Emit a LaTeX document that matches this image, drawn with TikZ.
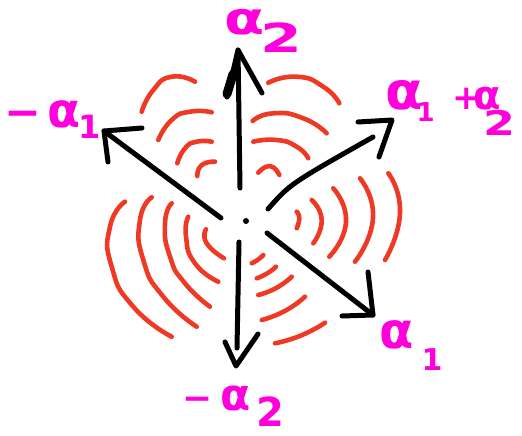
\documentclass[tikz,border=0pt]{standalone}
\usepackage{fontspec}
\setsansfont{DejaVu Sans}
\usepackage{graphicx}
\definecolor{arcred}{RGB}{238,58,36}
\definecolor{mag}{RGB}{255,0,220}
\newcommand\ga[2]{\scalebox{#2}[1]{\fontsize{#1}{#1}\selectfont\sffamily\bfseries α}}
\newcommand\dg[2]{{\fontsize{#1}{#1}\selectfont\sffamily\bfseries #2}}
\begin{document}
\begin{tikzpicture}[x=1pt,y=-1pt,
  redarc/.style={draw=arcred, line width=4.6pt, line cap=round, line join=round},
  shaft/.style={draw=black, line width=5pt, line cap=round, line join=round},
  lab/.style={text=mag, inner sep=0pt, anchor=base west}]
\useasboundingbox (0,0) rectangle (522,436);
% centre
\node[circle, fill=black, inner sep=0pt, minimum size=6pt] (o) at (246,221) {};
\tikzset{every plot/.style={smooth, tension=1}}
% red arcs, upper left
\draw[redarc] plot coordinates {(141.7,111.7) (153.3,90) (171.7,76.7) (195,81.7)};
\draw[redarc] plot coordinates {(158.3,140) (171.7,120) (190,111.7) (211.7,112.3)};
\draw[redarc] plot coordinates {(177.3,163.3) (185,148.3) (196.7,141.7) (211.7,141.7)};
\draw[redarc] plot coordinates {(197.3,176) (201.7,165) (215,161.7)};
% upper right
\draw[redarc] plot coordinates {(268.3,82.7) (296.7,76.7) (323.3,86.7) (339.3,103.3)};
\draw[redarc] plot coordinates {(252.7,121) (273.3,113.3) (303.3,118.3) (326.7,133.3)};
\draw[redarc] plot coordinates {(253.3,141.7) (276.7,140) (296.7,146.7) (308.3,158.3)};
\draw[redarc] plot coordinates {(258.3,172.7) (270,166) (279.3,175)};
% right
\draw[redarc] plot coordinates {(296.7,211.7) (299.3,218.3) (296.7,228.3)};
\draw[redarc] plot coordinates {(311.7,200) (321.7,220) (313.3,243.3)};
\draw[redarc] plot coordinates {(333.3,188.3) (346,222) (329.3,256.7)};
\draw[redarc] plot coordinates {(360,178.3) (373,218) (355,261.7)};
\draw[redarc] plot coordinates {(388.3,173.3) (400,213) (385,260)};
% lower right
\draw[redarc] plot coordinates {(251.7,263.3) (258,259.6) (263.3,255)};
\draw[redarc] plot coordinates {(256.7,278.3) (267.2,273.4) (276,266.7)};
\draw[redarc] plot coordinates {(258.3,295) (276.4,287.9) (291.7,276.7)};
\draw[redarc] plot coordinates {(261.7,320) (285,310.9) (305,296.7)};
\draw[redarc] plot coordinates {(275,343.3) (301,335.5) (325,322.7)};
% left
\draw[redarc] plot coordinates {(125,201.7) (110,226.7) (111.7,266.7) (133.3,306.7) (171.7,336.7)};
\draw[redarc] plot coordinates {(151.7,197.3) (140,220) (143.3,260) (163.3,296.7) (196.7,326.7)};
\draw[redarc] plot coordinates {(171.7,203.3) (165,223.3) (170,256.7) (185,283.3) (210,306.7)};
\draw[redarc] plot coordinates {(188.3,216.7) (186,236.7) (195,263.3) (218.3,281.7)};
\draw[redarc] plot coordinates {(206,229.3) (206.7,243.3) (224,258.3)};
% arrow coordinates
\coordinate (a2s) at (240,188); \coordinate (a2t) at (238,50);
\coordinate (a2l) at (227,97);  \coordinate (a2r) at (262,93);
\coordinate (m1s) at (221,218); \coordinate (m1t) at (104,131);
\coordinate (m1u) at (142,128); \coordinate (m1d) at (108,162);
\coordinate (sus) at (268,209); \coordinate (sue) at (373,137); \coordinate (sut) at (392,120);
\coordinate (suu) at (358,122); \coordinate (sud) at (379,157);
\coordinate (a1s) at (267,233); \coordinate (a1t) at (373,315);
\coordinate (a1u) at (368,272); \coordinate (a1l) at (342,316);
\coordinate (m2s) at (239,242); \coordinate (m2e) at (237,348); \coordinate (m2t) at (236,366);
\coordinate (m2l) at (225,342); \coordinate (m2r) at (258,334);
% arrows
\draw[shaft] (a2s) -- (a2t);
\draw[shaft] (a2l) -- (a2t) -- (a2r);
\draw[shaft, line width=9pt] (227,94) -- (233,74);
\draw[shaft] (m1s) -- (m1t);
\draw[shaft] (m1u) -- (m1t) -- (m1d);
\draw[shaft] (sus) .. controls (290,184) .. (sue);
\draw[shaft] (suu) -- (sut) -- (sud);
\draw[shaft] (a1s) -- (a1t);
\draw[shaft] (a1u) -- (a1t) -- (a1l);
\draw[shaft] (m2s) -- (m2e);
\draw[shaft] (m2l) -- (m2t) -- (m2r);
% labels
\node[lab] (la2) at (224,35) {\ga{45}{1.3}\hspace{-4pt}\raisebox{-18pt}{\scalebox{1.5}[1]{\dg{40}{2}}}};
\node[lab] (lm1) at (4,127) {\dg{44}{−}\hspace{6pt}\ga{48}{1}\hspace{-2pt}\raisebox{-11pt}{\dg{32}{1}}};
\node[lab] (lsum) at (385,110) {\ga{52}{1.05}\hspace{-6pt}\raisebox{-12pt}{\dg{26}{1}}\hspace{18pt}\dg{34}{+}\hspace{-8pt}\ga{40}{1}\hspace{-17pt}\raisebox{-25pt}[0pt][0pt]{\scalebox{1.35}[1]{\dg{34}{2}}}};
\node[lab] (la1) at (379,348) {\ga{50}{1}\hspace{8pt}\raisebox{-22pt}{\dg{30}{1}}};
\node[lab] (lm2) at (182,410) {\dg{36}{−}\hspace{8pt}\ga{44}{1}\hspace{6pt}\raisebox{-16pt}[0pt][0pt]{\dg{40}{2}}};
\end{tikzpicture}
\end{document}
